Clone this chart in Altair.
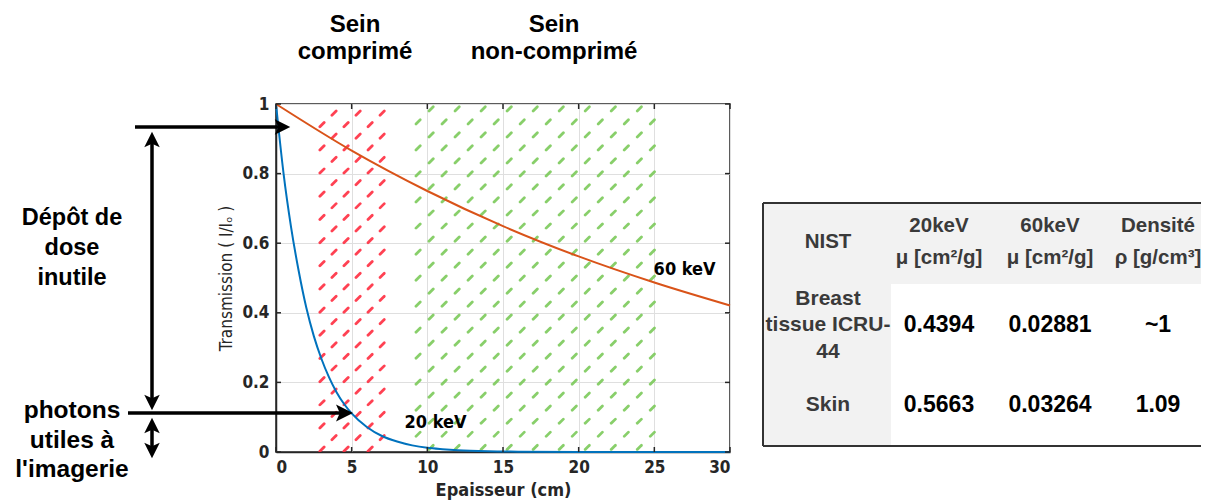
import altair as alt
import pandas as pd

# ---------------- data ----------------
x_ticks = [0, 5, 10, 15, 20, 25, 30]
y_ticks = [0, 0.2, 0.4, 0.6, 0.8, 1.0]

x_20kev = [0, 0.5, 1, 1.5, 2, 2.5, 3, 3.5, 4, 4.5, 5, 6, 7, 8, 9, 10, 11, 12, 14, 16, 20, 25, 30]
t_20kev = [1.0, 0.80, 0.645, 0.52, 0.415, 0.333, 0.268, 0.215, 0.172, 0.138, 0.111, 0.072,
           0.046, 0.030, 0.019, 0.012, 0.008, 0.005, 0.002, 0.001, 0.0, 0.0, 0.0]
x_60kev = [0, 5, 10, 15, 20, 25, 30]
t_60kev = [1.0, 0.866, 0.750, 0.649, 0.562, 0.487, 0.421]
series = ["20 keV", "60 keV"]

zone_comprime = [3.0, 7.3]
zone_non_comprime = [8.9, 25.4]

title_comprime = "Sein\ncomprimé"
title_non_comprime = "Sein\nnon-comprimé"
text_depot = "Dépôt de\ndose\ninutile"
text_photons = "photons\nutiles à\nl'imagerie"

table_cols = ["NIST", "20keV\nμ [cm²/g]", "60keV\nμ [cm²/g]", "Densité\nρ [g/cm³]"]
table_rows = ["Breast\ntissue ICRU-\n44", "Skin"]
mu_20 = ["0.4394", "0.5663"]
mu_60 = ["0.02881", "0.03264"]
densite = ["~1", "1.09"]

# ---------------- styling ----------------
W, H = 454, 348
NARROW = "Liberation Sans Narrow, Arial Narrow, DejaVu Sans Condensed, sans-serif"
SANS = "Liberation Sans, Arial, sans-serif"
AX = "#262626"
BLUE, ORANGE = "#0072bd", "#d95319"
RED, GREEN = "#ff2d40", "#7cca5a"

lines_df = pd.concat([
    pd.DataFrame({"x": x_20kev, "y": t_20kev, "E": series[0]}),
    pd.DataFrame({"x": x_60kev, "y": t_60kev, "E": series[1]}),
])

xs = alt.Scale(domain=[0, 30], nice=False, zero=False)
ys = alt.Scale(domain=[0, 1], nice=False, zero=False)
x_axis = alt.Axis(values=x_ticks, format="d", title="Epaisseur (cm)", titleFontWeight="bold",
                  titleFontSize=18, labelPadding=7, titlePadding=6, grid=True, ticks=False)
y_axis = alt.Axis(values=y_ticks, format="~g", title="Transmission ( I/Iₒ )", titleFontWeight="normal",
                  titleFontSize=17, labelPadding=7, titlePadding=6, grid=True, ticks=False)


def X():
    return alt.X("x:Q", scale=xs, axis=x_axis)


def Y():
    return alt.Y("y:Q", scale=ys, axis=y_axis)


def hatch_points(zone, x_first, dx, y_top, dy):
    rows = []
    k = 0
    y = y_top
    while y > -dy / 2:
        x = x_first + (dx / 2 if k % 2 == 0 else 0.0)
        while x - dx >= zone[0]:
            x -= dx
        while x <= zone[1]:
            if x >= zone[0]:
                rows.append({"x": x, "y": y})
            x += dx
        k += 1
        y = y_top - k * dy
    return pd.DataFrame(rows)


DASH = "M -1 1 L 1 -1"
dash_style = dict(shape=DASH, filled=False, strokeWidth=2.8, strokeCap="round", size=18,
                  opacity=0.9, clip=True)
red_h = alt.Chart(hatch_points(zone_comprime, 3.04, 1.59, 0.974, 0.0333)).mark_point(
    stroke=RED, **dash_style).encode(x=X(), y=Y())
green_h = alt.Chart(hatch_points(zone_non_comprime, 9.39, 1.72, 0.986, 0.0374)).mark_point(
    stroke=GREEN, **dash_style).encode(x=X(), y=Y())

curves = alt.Chart(lines_df).mark_line(strokeWidth=2, interpolate="monotone").encode(
    x=X(), y=Y(),
    color=alt.Color("E:N", scale=alt.Scale(domain=series, range=[BLUE, ORANGE]), legend=None))

dummy = pd.DataFrame({"d": [0]})

lab_style = dict(font=NARROW, fontWeight="bold", fontSize=18, color="black",
                 align="center", baseline="alphabetic")
lab60 = alt.Chart(dummy).mark_text(**lab_style).encode(
    x=alt.datum(27.0), y=alt.datum(0.509), text=alt.value(series[1]))
lab20 = alt.Chart(dummy).mark_text(**lab_style).encode(
    x=alt.datum(10.54), y=alt.datum(0.069), text=alt.value(series[0]))

xt_df = pd.DataFrame({"x": x_ticks})
yt_df = pd.DataFrame({"y": y_ticks})
tick_style = dict(color=AX, strokeWidth=1.5)
ticks = [
    alt.Chart(xt_df).mark_rule(**tick_style).encode(x=X(), y=alt.value(H), y2=alt.value(H - 5)),
    alt.Chart(xt_df).mark_rule(**tick_style).encode(x=X(), y=alt.value(0), y2=alt.value(5)),
    alt.Chart(yt_df).mark_rule(**tick_style).encode(y=Y(), x=alt.value(0), x2=alt.value(5)),
    alt.Chart(yt_df).mark_rule(**tick_style).encode(y=Y(), x=alt.value(W), x2=alt.value(W - 5)),
]


def seg(x1, y1, x2, y2, w=3.5):
    return alt.Chart(dummy).mark_rule(color="black", strokeWidth=w).encode(
        x=alt.value(x1), y=alt.value(y1), x2=alt.value(x2), y2=alt.value(y2))


def head(px, py, path, size=240):
    return alt.Chart(dummy).mark_point(shape=path, filled=True, color="black", size=size,
                                       opacity=1, strokeWidth=0).encode(
        x=alt.value(px), y=alt.value(py))


RIGHT = "M 1 0 L -1 -1 L -0.55 0 L -1 1 Z"
UP = "M 0 -1 L 1 1 L 0 0.55 L -1 1 Z"
DOWN = "M 0 1 L 1 -1 L 0 -0.55 L -1 -1 Z"

arrows = [
    seg(-141, 23, 8, 23), head(6.5, 23, RIGHT),
    seg(-148, 309, 70, 309), head(68.5, 309, RIGHT, 289),
    seg(-124, 38, -124, 296), head(-124, 35.5, UP), head(-124, 298.5, DOWN),
    seg(-124, 325, -124, 343), head(-124, 321.5, UP), head(-124, 346.5, DOWN),
]


def txt(s, px, py, size, lh, font=SANS, color="black", baseline="alphabetic"):
    return alt.Chart(dummy).mark_text(font=font, fontWeight="bold", fontSize=size, lineBreak="\n",
                                      lineHeight=lh, align="center", baseline=baseline,
                                      color=color).encode(
        x=alt.value(px), y=alt.value(py), text=alt.value(s))


texts = [
    txt(title_comprime, 79, -72, 24, 27),
    txt(title_non_comprime, 278, -72, 24, 27),
    txt(text_depot, -204, 121, 23.5, 30),
    txt(text_photons, -204, 314, 24.5, 29.5),
]

main = alt.layer(red_h, green_h, curves, *ticks, lab60, lab20, *arrows, *texts)

# ---------------- table ----------------
cells = []
for ci, c in enumerate(table_cols):
    cells.append({"ci": ci, "ri": 0, "txt": c, "kind": "head"})
for ri, r in enumerate(table_rows):
    cells.append({"ci": 0, "ri": ri + 1, "txt": r, "kind": "row"})
    for ci, v in enumerate([mu_20[ri], mu_60[ri], densite[ri]]):
        cells.append({"ci": ci + 1, "ri": ri + 1, "txt": v, "kind": "val"})
cells_df = pd.DataFrame(cells)
cells_df["nl"] = cells_df["txt"].str.count("\n") + 1

tx = alt.X("ci:Q", scale=alt.Scale(domain=[0, 1, 2, 3], range=[552, 663, 774, 882],
                                   nice=False, zero=False), axis=None)
ty = alt.Y("ri:Q", scale=alt.Scale(domain=[0, 1, 2], range=[138, 221, 301],
                                   nice=False, zero=False), axis=None)

GRAY_BG = "#f2f2f2"
TL, TT, TB, TR = 487, 99, 342, 945


def rect(x1, y1, x2, y2, fill):
    return alt.Chart(dummy).mark_rect(fill=fill).encode(
        x=alt.value(x1), y=alt.value(y1), x2=alt.value(x2), y2=alt.value(y2))


def bline(x1, y1, x2, y2):
    return alt.Chart(dummy).mark_rule(color="#333333", strokeWidth=2).encode(
        x=alt.value(x1), y=alt.value(y1), x2=alt.value(x2), y2=alt.value(y2))


text_styles = {"head": (20.5, 32, "#3a3a3a"), "row": (21, 26.5, "#3a3a3a"), "val": (23, 26, "black")}
cell_layers = []
for (kind, nl), _ in cells_df.groupby(["kind", "nl"]):
    size, lh, color = text_styles[kind]
    cell_layers.append(
        alt.Chart(cells_df).transform_filter(
            (alt.datum.kind == kind) & (alt.datum.nl == int(nl))
        ).mark_text(
            font=SANS, fontWeight="bold", fontSize=size, lineBreak="\n", lineHeight=lh,
            align="center", baseline="middle", color=color, dy=-(int(nl) - 1) * lh / 2,
        ).encode(x=tx, y=ty, text="txt:N")
    )

table = alt.layer(
    rect(TL, TT, TR, 180, GRAY_BG),
    rect(TL, TT, 615, TB, GRAY_BG),
    bline(TL, TT, TR, TT), bline(TL, TB, TR, TB), bline(TL, TT, TL, TB),
    *cell_layers,
)

chart = alt.layer(main, table).resolve_scale(x="independent", y="independent").properties(
    width=W, height=H,
    autosize=alt.AutoSizeParams(type="none"),
    padding={"left": 268, "top": 96, "right": 471, "bottom": 48},
).configure_view(stroke=AX, strokeWidth=1.5).configure_axis(
    labelFont=NARROW, labelFontSize=17, labelFontWeight="bold", labelColor=AX,
    titleFont=NARROW, titleColor=AX, domainColor=AX, domainWidth=1.5,
    gridColor="#dfdfdf", gridWidth=1,
)

chart.save("out.html", embed_options={"renderer": "svg", "actions": False})
